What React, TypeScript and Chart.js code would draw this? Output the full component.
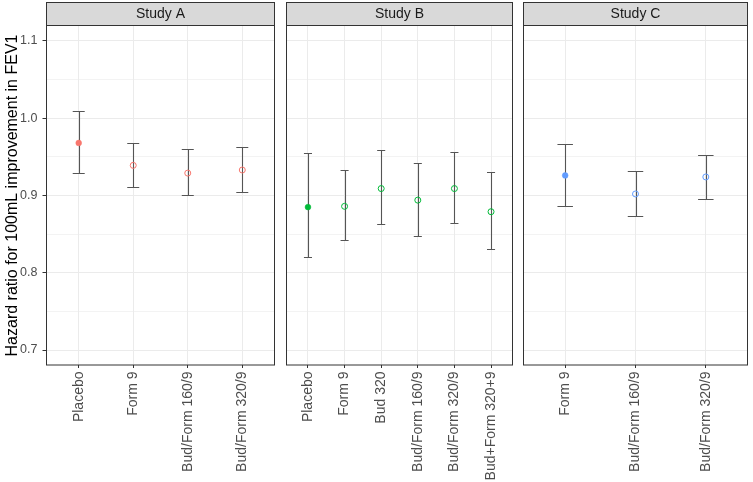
import React, { useEffect, useRef } from "react";
import { Chart, registerables } from "chart.js";

Chart.register(...registerables);

const FONT = "'Liberation Sans', Arial, Helvetica, sans-serif";

const studyNames = ["Study A", "Study B", "Study C"];
const studyColors = ["#F8766D", "#00BA38", "#619CFF"];

const catsA = ["Placebo", "Form 9", "Bud/Form 160/9", "Bud/Form 320/9"];
const estA = [0.968, 0.939, 0.929, 0.933];
const lowA = [0.929, 0.911, 0.9, 0.905];
const upA = [1.009, 0.968, 0.96, 0.963];

const catsB = ["Placebo", "Form 9", "Bud 320", "Bud/Form 160/9", "Bud/Form 320/9", "Bud+Form 320+9"];
const estB = [0.885, 0.886, 0.909, 0.894, 0.909, 0.879];
const lowB = [0.82, 0.842, 0.863, 0.848, 0.864, 0.831];
const upB = [0.955, 0.933, 0.959, 0.942, 0.956, 0.93];

const catsC = ["Form 9", "Bud/Form 160/9", "Bud/Form 320/9"];
const estC = [0.926, 0.902, 0.924];
const lowC = [0.887, 0.873, 0.896];
const upC = [0.967, 0.932, 0.953];

const yTickValues = [0.7, 0.75, 0.8, 0.85, 0.9, 0.95, 1.0, 1.05, 1.1];
const yMin = 0.6806;
const yMax = 1.1194;
const yTitle = "Hazard ratio for 100mL improvement in FEV1";

const panels = [
  { cats: catsA, est: estA, low: lowA, up: upA, left: 0, width: 280, padL: 0, padR: 3, showY: true },
  { cats: catsB, est: estB, low: lowB, up: upB, left: 281, width: 237, padL: 3, padR: 3, showY: false },
  { cats: catsC, est: estC, low: lowC, up: upC, left: 518, width: 235, padL: 3, padR: 1, showY: false },
];

const isMajor = (v: number) => Math.abs(v * 10 - Math.round(v * 10)) < 1e-6;

function Panel({ idx }: { idx: number }) {
  const ref = useRef<HTMLCanvasElement | null>(null);
  const p = panels[idx];
  useEffect(() => {
    const color = studyColors[idx];
    const n = p.cats.length;
    const stripPlugin = {
      id: "strip" + idx,
      beforeDatasetsDraw(chart: any) {
        const { ctx, scales } = chart;
        const xs = scales.x;
        const ys = scales.y;
        ctx.save();
        ctx.strokeStyle = "#555555";
        ctx.lineWidth = 1.1;
        for (let i = 0; i < n; i++) {
          const x = Math.round(xs.getPixelForValue(i)) + 0.5;
          const xl = xs.getPixelForValue(i - 0.11);
          const xr = xs.getPixelForValue(i + 0.11);
          const yl = Math.round(ys.getPixelForValue(p.low[i])) + 0.5;
          const yu = Math.round(ys.getPixelForValue(p.up[i])) + 0.5;
          ctx.beginPath();
          ctx.moveTo(x, yl);
          ctx.lineTo(x, yu);
          ctx.moveTo(xl, yl);
          ctx.lineTo(xr, yl);
          ctx.moveTo(xl, yu);
          ctx.lineTo(xr, yu);
          ctx.stroke();
        }
        ctx.restore();
      },
      afterDraw(chart: any) {
        const { ctx, chartArea } = chart;
        const L = Math.round(chartArea.left);
        const R = Math.round(chartArea.right);
        const T = Math.round(chartArea.top);
        const B = Math.round(chartArea.bottom);
        ctx.save();
        ctx.fillStyle = "#D9D9D9";
        ctx.fillRect(L, 2, R - L, T - 2);
        ctx.strokeStyle = "#333333";
        ctx.lineWidth = 1;
        ctx.strokeRect(L + 0.5, 2.5, R - L - 1, T - 3);
        ctx.strokeRect(L + 0.5, T - 0.5, R - L - 1, B - T + 0.5);
        ctx.fillStyle = "#1A1A1A";
        ctx.font = "14px " + FONT;
        ctx.textAlign = "center";
        ctx.textBaseline = "middle";
        ctx.fillText(studyNames[idx], (L + R) / 2, 14.5);
        ctx.restore();
      },
    };
    const chart = new Chart(ref.current as HTMLCanvasElement, {
      type: "scatter",
      data: {
        datasets: [
          {
            data: p.est.map((v, i) => ({ x: i, y: v })),
            pointBackgroundColor: p.est.map((_, i) => (i === 0 ? color : "rgba(0,0,0,0)")),
            pointBorderColor: color,
            pointBorderWidth: p.est.map((_, i) => (i === 0 ? 0.5 : 1)),
            pointRadius: p.est.map((_, i) => (i === 0 ? 2.9 : 3)),
            showLine: false,
          } as any,
        ],
      },
      options: {
        animation: false,
        responsive: false,
        maintainAspectRatio: false,
        layout: { padding: { top: 26, left: p.padL, right: p.padR, bottom: 0 } },
        plugins: { legend: { display: false }, tooltip: { enabled: false } },
        scales: {
          x: {
            type: "linear",
            min: -0.6,
            max: n - 1 + 0.6,
            afterBuildTicks: (s: any) => {
              s.ticks = p.cats.map((_, i) => ({ value: i }));
            },
            afterFit: (s: any) => {
              s.height = 117;
            },
            ticks: {
              autoSkip: false,
              maxRotation: 90,
              minRotation: 90,
              padding: 3.5,
              color: "#4D4D4D",
              font: { size: 14, family: FONT },
              callback: (v: any) => p.cats[Math.round(Number(v))],
            },
            grid: { color: "#EBEBEB", lineWidth: 1, tickColor: "#333333", tickLength: 3, drawTicks: true },
            border: { display: false },
          },
          y: {
            min: yMin,
            max: yMax,
            afterBuildTicks: (s: any) => {
              s.ticks = yTickValues.map((v) => ({ value: v }));
            },
            afterFit: (s: any) => {
              s.width = p.showY ? 46 : 0;
            },
            ticks: {
              display: p.showY,
              padding: 5,
              color: "#4D4D4D",
              font: { size: 12.5, family: FONT },
              callback: (v: any) => (isMajor(Number(v)) ? Number(v).toFixed(1) : ""),
            },
            grid: {
              color: "#EBEBEB",
              lineWidth: (ctx: any) => (ctx.tick && isMajor(ctx.tick.value) ? 1 : 0.6),
              tickColor: (ctx: any) => (ctx.tick && isMajor(ctx.tick.value) ? "#333333" : "rgba(0,0,0,0)"),
              tickLength: 3.5,
              drawTicks: p.showY,
            },
            border: { display: false },
            title: {
              display: p.showY,
              text: yTitle,
              color: "#000000",
              font: { size: 16, family: FONT },
              padding: { top: 3, bottom: 0 },
            },
          },
        },
      } as any,
      plugins: [stripPlugin],
    });
    return () => chart.destroy();
  }, []);
  return (
    <canvas
      ref={ref}
      width={p.width}
      height={482}
      style={{ position: "absolute", left: p.left, top: 0, width: p.width, height: 482 }}
    />
  );
}

export default function App() {
  return (
    <div style={{ position: "fixed", left: 0, top: 0, width: 753, height: 482, background: "#FFFFFF" }}>
      <Panel idx={0} />
      <Panel idx={1} />
      <Panel idx={2} />
    </div>
  );
}
